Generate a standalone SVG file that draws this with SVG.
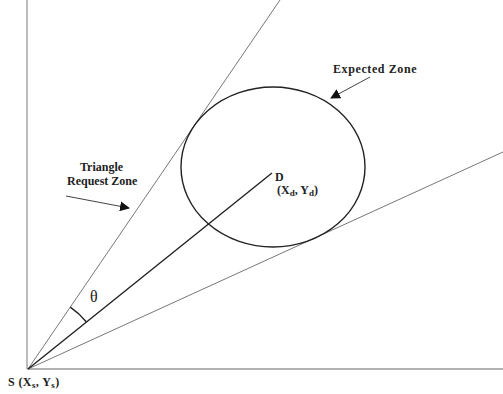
<svg xmlns="http://www.w3.org/2000/svg" width="503" height="394" viewBox="0 0 503 394">
<style>
.axis{stroke:#999;stroke-width:1.3;fill:none}
.tan{stroke:#777;stroke-width:1;fill:none}
.dark{stroke:#222;stroke-width:1.4;fill:none}
.lbl{font-family:"Liberation Serif",serif;font-weight:bold;font-size:12px;fill:#222}
.ptr{stroke:#444;stroke-width:1;fill:none;marker-end:url(#ah)}
</style>
<defs>
<marker id="ah" viewBox="0 0 10 10" refX="9" refY="5" markerWidth="10" markerHeight="10" markerUnits="userSpaceOnUse" orient="auto">
<path d="M0,0 L10,5 L0,10 z" fill="#111"/>
</marker>
</defs>
<rect width="503" height="394" fill="#fff"/>
<g id="connectors">
<line class="axis" x1="27" y1="0" x2="27" y2="369"/>
<line class="axis" x1="27" y1="369" x2="503" y2="369"/>
<line class="tan" x1="28" y1="369" x2="280" y2="0"/>
<line class="tan" x1="28" y1="369" x2="503" y2="152"/>
<line class="dark" x1="28" y1="369" x2="272" y2="173"/>
<path class="dark" d="M70.3,307.1 A75,75 0 0 1 86.4,322"/>
<line class="ptr" x1="370" y1="77" x2="331" y2="98"/>
<line class="ptr" x1="66" y1="196" x2="129" y2="208"/>
</g>
<g id="expected-zone">
<ellipse class="dark" cx="273" cy="167" rx="92" ry="80"/>
<text class="lbl" x="333" y="73" letter-spacing="0.6">Expected Zone</text>
</g>
<g id="triangle-zone">
<text class="lbl" x="80" y="171">Triangle</text>
<text class="lbl" x="67" y="185">Request Zone</text>
</g>
<g id="theta">
<text x="90" y="302" font-family="Liberation Serif,serif" font-size="16" fill="#222">θ</text>
</g>
<g id="D">
<text class="lbl" x="275" y="181" font-size="13">D</text>
<text class="lbl" x="277" y="194" font-size="13">(X<tspan font-size="9" dy="2">d</tspan><tspan dy="-2">, Y</tspan><tspan font-size="9" dy="2">d</tspan><tspan dy="-2">)</tspan></text>
</g>
<g id="S">
<text class="lbl" x="8" y="386" font-size="14" letter-spacing="0.4">S (X<tspan font-size="9" dy="2">s</tspan><tspan dy="-2">, Y</tspan><tspan font-size="9" dy="2">s</tspan><tspan dy="-2">)</tspan></text>
</g>
</svg>
